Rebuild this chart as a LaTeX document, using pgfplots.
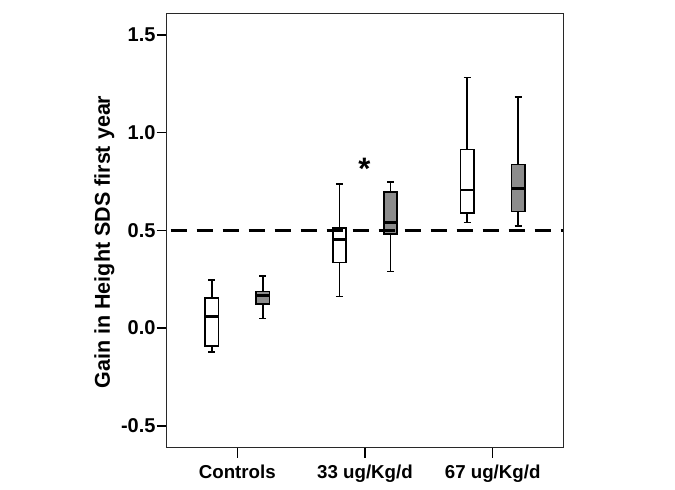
\documentclass[border=0pt]{standalone}
\usepackage{fontspec}
\setmainfont{Liberation Sans}
\usepackage{pgfplots}
\pgfplotsset{compat=1.18}
\usepgfplotslibrary{statistics}
\definecolor{boxgray}{RGB}{140,140,140}
\definecolor{axgray}{RGB}{40,40,40}
\begin{document}
\begin{tikzpicture}
\begin{axis}[
  name=ax,
  scale only axis,
  width=396.6pt, height=434.4pt,
  xmin=-0.553, xmax=2.553,
  ymin=-0.612, ymax=1.611,
  axis line style={axgray, line width=1.4pt},
  tick align=outside,
  major tick length=10pt,
  tick style={black, line width=1.4pt},
  xtick={0,1,2},
  xticklabels={Controls,33 ug/Kg/d,67 ug/Kg/d},
  ytick={-0.5,0,0.5,1,1.5},
  yticklabels={-0.5,0.0,0.5,1.0,1.5},
  xtick pos=bottom, ytick pos=left,
  xticklabel style={font=\fontsize{18.7}{18.7}\selectfont\bfseries, inner sep=0pt, yshift=-7pt},
  yticklabel style={font=\fontsize{20}{20}\selectfont\bfseries, inner sep=0pt, xshift=-1pt},
  ylabel={Gain in Height SDS first year},
  every axis y label/.style={at={(axis description cs:-0.157,0.4735)}, rotate=90, anchor=center, font=\fontsize{21.5}{21.5}\selectfont\bfseries},
  boxplot/draw direction=y,
  boxplot/every median/.style={line width=2.8pt},
  boxplot/every box/.style={line width=1.7pt},
  boxplot/every whisker/.style={line width=1.7pt},
  clip=false,
]
% Controls
\addplot+[solid, mark=none, draw=black, fill=white,
  boxplot prepared={lower whisker=-0.123, lower quartile=-0.091, median=0.059, upper quartile=0.153, upper whisker=0.247,
  draw position=-0.2, box extend=0.104, whisker extend=0.055}] coordinates {};
\addplot+[solid, mark=none, draw=black, fill=boxgray,
  boxplot prepared={lower whisker=0.049, lower quartile=0.123, median=0.167, upper quartile=0.187, upper whisker=0.268,
  draw position=0.2, box extend=0.104, whisker extend=0.055}] coordinates {};
% 33 ug/Kg/d
\addplot+[solid, mark=none, draw=black, fill=white,
  boxplot prepared={lower whisker=0.162, lower quartile=0.336, median=0.452, upper quartile=0.512, upper whisker=0.737,
  draw position=0.8, box extend=0.104, whisker extend=0.055}] coordinates {};
\addplot+[solid, mark=none, draw=black, fill=boxgray,
  boxplot prepared={lower whisker=0.290, lower quartile=0.481, median=0.540, upper quartile=0.696, upper whisker=0.747,
  draw position=1.2, box extend=0.104, whisker extend=0.055}] coordinates {};
% 67 ug/Kg/d
\addplot+[solid, mark=none, draw=black, fill=white,
  boxplot prepared={lower whisker=0.540, lower quartile=0.588, median=0.707, upper quartile=0.914, upper whisker=1.282,
  draw position=1.8, box extend=0.104, whisker extend=0.055}] coordinates {};
\addplot+[solid, mark=none, draw=black, fill=boxgray,
  boxplot prepared={lower whisker=0.523, lower quartile=0.597, median=0.714, upper quartile=0.837, upper whisker=1.182,
  draw position=2.2, box extend=0.104, whisker extend=0.055}] coordinates {};
% reference line
\addplot[black, line width=3pt, dash pattern=on 16pt off 10pt, dash phase=-4pt] coordinates {(-0.553,0.5) (2.553,0.5)};
\node[anchor=north, inner sep=0pt, font=\fontsize{31}{31}\selectfont\bfseries] at (axis cs:0.995,0.871) {*};
\end{axis}
\path (ax.south west) ++(-166.7pt,-42.3pt) coordinate (bbA);
\path (ax.north east) ++(111.7pt,13.3pt) coordinate (bbB);
\useasboundingbox (bbA) rectangle (bbB);
\end{tikzpicture}
\end{document}
